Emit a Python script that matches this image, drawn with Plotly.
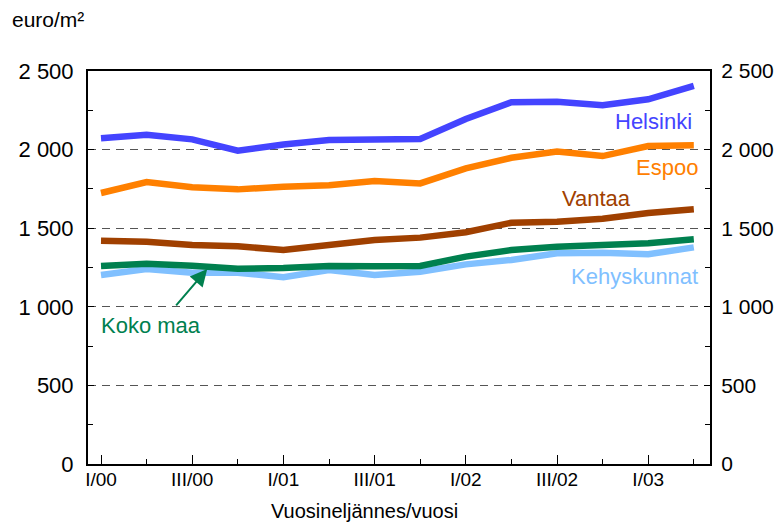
import plotly.graph_objects as go

quarters = ["I/00", "II/00", "III/00", "IV/00", "I/01", "II/01", "III/01", "IV/01",
            "I/02", "II/02", "III/02", "IV/02", "I/03", "II/03"]
helsinki = [2072, 2095, 2065, 1993, 2032, 2061, 2065, 2067, 2195, 2301, 2305, 2282, 2320, 2405]
espoo = [1724, 1794, 1760, 1747, 1764, 1773, 1800, 1785, 1881, 1948, 1987, 1959, 2023, 2027]
vantaa = [1420, 1414, 1393, 1385, 1361, 1398, 1425, 1440, 1474, 1535, 1541, 1560, 1597, 1620]
koko_maa = [1260, 1274, 1261, 1242, 1247, 1260, 1258, 1260, 1319, 1361, 1382, 1389, 1404, 1429]
kehyskunnat = [1202, 1240, 1217, 1217, 1188, 1234, 1202, 1223, 1270, 1298, 1340, 1344, 1334, 1378]

y_ticks = [0, 500, 1000, 1500, 2000, 2500]
y_labels = ["0", "500", "1 000", "1 500", "2 000", "2 500"]

FONT = "Liberation Sans, Arial, sans-serif"
x = list(range(len(quarters)))

series = [
    ("Kehyskunnat", kehyskunnat, "#80C0FF"),
    ("Koko maa", koko_maa, "#00804F"),
    ("Vantaa", vantaa, "#A04000"),
    ("Espoo", espoo, "#FF8000"),
    ("Helsinki", helsinki, "#4444FF"),
]

fig = go.Figure()
for name, vals, col in series:
    fig.add_trace(go.Scatter(x=x, y=vals, mode="lines", name=name,
                             line=dict(color=col, width=6.5), showlegend=False))
fig.add_trace(go.Scatter(x=[0], y=[0], yaxis="y2", mode="markers",
                         marker=dict(opacity=0), showlegend=False, hoverinfo="skip"))

fig.update_layout(
    width=767, height=521,
    margin=dict(l=80, r=65, t=63, b=65, autoexpand=False),
    paper_bgcolor="white", plot_bgcolor="white",
    font=dict(family=FONT, color="black"),
    xaxis=dict(
        range=[-0.285, 13.355], automargin=False,
        tickmode="array", tickvals=x[::2], ticktext=quarters[::2],
        ticks="inside", ticklen=9, tickwidth=1, tickcolor="black",
        minor=dict(tickmode="array", tickvals=x[1::2], ticks="inside", ticklen=5, tickcolor="black"),
        showgrid=False, zeroline=False,
        showline=True, linecolor="black", linewidth=2, mirror=True,
        tickfont=dict(size=19, family=FONT), ticklabelstandoff=-3,
    ),
    yaxis=dict(
        range=[0, 2500], automargin=False,
        tickmode="array", tickvals=y_ticks, ticktext=y_labels,
        ticks="inside", ticklen=6, tickcolor="black",
        minor=dict(dtick=250, ticks="inside", ticklen=5, tickcolor="black", showgrid=False),
        showgrid=True, gridcolor="#555555", gridwidth=1.3, griddash="8px,6px",
        zeroline=False, showline=True, linecolor="black", linewidth=2,
        tickfont=dict(size=22, family=FONT), ticklabelstandoff=8,
    ),
    yaxis2=dict(
        range=[0, 2500], overlaying="y", side="right", automargin=False,
        tickmode="array", tickvals=y_ticks, ticktext=y_labels,
        ticks="inside", ticklen=6, tickcolor="black",
        minor=dict(dtick=250, ticks="inside", ticklen=5, tickcolor="black"),
        showgrid=False, zeroline=False, showline=True, linecolor="black", linewidth=2,
        tickfont=dict(size=21, family=FONT), ticklabelstandoff=5,
    ),
)

ann_font = dict(family=FONT, size=22)
fig.add_annotation(x=13, y=2176, text="Helsinki", showarrow=False, xanchor="right",
                   yanchor="middle", font=dict(ann_font, color="#4444FF"))
fig.add_annotation(x=13.13, y=1889, text="Espoo", showarrow=False, xanchor="right",
                   yanchor="middle", font=dict(ann_font, color="#FF8000"))
fig.add_annotation(x=10.86, y=1692, text="Vantaa", showarrow=False, xanchor="center",
                   yanchor="middle", font=dict(ann_font, color="#A04000"))
fig.add_annotation(x=13.13, y=1190, text="Kehyskunnat", showarrow=False, xanchor="right",
                   yanchor="middle", font=dict(ann_font, color="#80C0FF"))
fig.add_annotation(x=-0.05, y=878, text="Koko maa", showarrow=False, xanchor="left",
                   yanchor="middle", font=dict(ann_font, color="#00804F"))
fig.add_annotation(x=2.33, y=1240, ax=1.62, ay=999, axref="x", ayref="y",
                   xref="x", yref="y", text="", showarrow=True,
                   arrowhead=2, arrowsize=1.7, arrowwidth=2, arrowcolor="#00804F")

fig.add_annotation(xref="paper", yref="paper", x=-0.125, y=1.13, text="euro/m²",
                   showarrow=False, xanchor="left", yanchor="middle",
                   font=dict(family=FONT, size=21))
fig.add_annotation(xref="paper", yref="paper", x=0.445, y=-0.12, text="Vuosineljännes/vuosi",
                   showarrow=False, xanchor="center", yanchor="middle",
                   font=dict(family=FONT, size=20))

fig.write_html("out.html")
